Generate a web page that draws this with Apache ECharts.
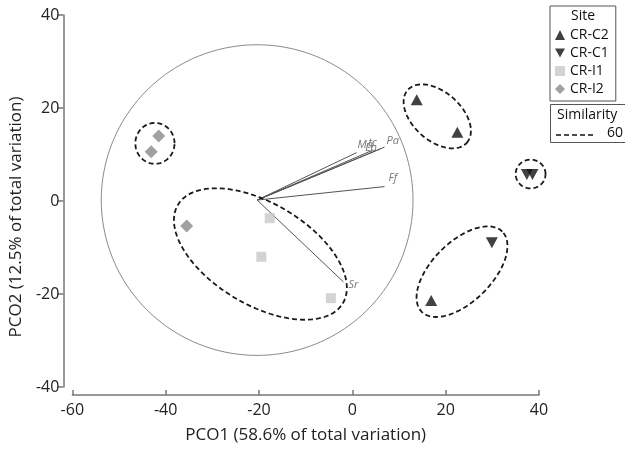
<!DOCTYPE html>
<html><head><meta charset="utf-8">
<script src="https://cdn.jsdelivr.net/npm/echarts@6/dist/echarts.min.js"></script>
<style>html,body{margin:0;padding:0;background:#fff}#c{width:625px;height:454px}</style>
</head><body><div id="c"></div>
<script>
// ---- data ----
const xTicks = [-60, -40, -20, 0, 20, 40];
const yTicks = [-40, -20, 0, 20, 40];
const siteNames = ['CR-C2', 'CR-C1', 'CR-I1', 'CR-I2'];
const c2X = [13.8, 22.5, 16.9];
const c2Y = [21.8, 14.8, -21.4];
const c1X = [29.9, 37.4, 38.6];
const c1Y = [-9.0, 5.7, 5.7];
const i1X = [-17.7, -19.5, -4.6];
const i1Y = [-3.7, -12.0, -20.9];
const i2X = [-41.5, -43.1, -35.5];
const i2Y = [14.0, 10.6, -5.4];
// similarity 60 cluster outlines: centre x, centre y, semi-axes a, b, angle (deg)
const ellCX = [-42.3, -19.7, 18.2, 38.2, 23.5];
const ellCY = [12.4, -11.4, 18.2, 5.8, -15.2];
const ellA = [4.2, 20.6, 8.5, 3.2, 12.2];
const ellB = [4.4, 10.9, 5.2, 3.1, 6.4];
const ellAng = [0, -31, -42, 0, 45];
// correlation vectors
const vecOrigin = [-20.4, 0.2];
const vecRadius = 33.4;
const vecNames = ['Ma', 'tc', 'Lp', 'Pa', 'Ff', 'Sr'];
const vecX = [0.9, 4.3, 6.0, 6.9, 6.9, -1.9];
const vecY = [10.4, 10.9, 11.2, 11.6, 3.1, -17.4];

// ---- style ----
const FONT = 'Open Sans';
const labelOff = [[1, -8], [-4, -7], [-15, -1], [2, -6], [4, -9], [5, 3]];

const chart = echarts.init(document.getElementById('c'), null, {renderer: 'canvas'});
const pts = (xs, ys) => xs.map((v, i) => [v, ys[i]]);

const option = {
  animation: false,
  backgroundColor: '#fff',
  grid: {left: 72, right: 86, top: 15, bottom: 67},
  xAxis: {
    type: 'value', min: xTicks[0], max: xTicks[xTicks.length - 1], interval: 20, offset: 8,
    splitLine: {show: false},
    axisLine: {show: true, onZero: false, lineStyle: {color: '#777', width: 1.5}},
    axisTick: {show: true, inside: true, length: 5, lineStyle: {color: '#777', width: 1.5}},
    axisLabel: {fontSize: 16, fontFamily: FONT, color: '#222', margin: 7},
    name: 'PCO1 (58.6% of total variation)', nameLocation: 'middle', nameGap: 32,
    nameTextStyle: {fontSize: 17, fontFamily: FONT, color: '#222'}
  },
  yAxis: {
    type: 'value', min: yTicks[0], max: yTicks[yTicks.length - 1], interval: 20, offset: 9,
    splitLine: {show: false},
    axisLine: {show: true, onZero: false, lineStyle: {color: '#777', width: 1.5}},
    axisTick: {show: true, inside: false, length: 6, lineStyle: {color: '#777', width: 1.5}},
    axisLabel: {fontSize: 16, fontFamily: FONT, color: '#222', margin: 4},
    name: 'PCO2 (12.5% of total variation)', nameLocation: 'middle', nameGap: 34,
    nameTextStyle: {fontSize: 17, fontFamily: FONT, color: '#222', padding: [0, 32, 0, 0]}
  },
  legend: {
    orient: 'vertical', left: 550, top: 6, padding: [22, 7, 5, 5],
    itemWidth: 10, itemHeight: 10, itemGap: 4,
    borderColor: '#555', borderWidth: 1,
    textStyle: {fontSize: 14, fontFamily: FONT, color: '#111'},
    data: siteNames
  },
  graphic: [
    {type: 'text', left: 571, top: 9, style: {text: 'Site', font: '14px "Open Sans"', fill: '#111'}},
    {type: 'rect', shape: {x: 550.5, y: 104.5, width: 90, height: 38}, style: {fill: 'none', stroke: '#555', lineWidth: 1}},
    {type: 'text', left: 557, top: 108, style: {text: 'Similarity', font: '14px "Open Sans"', fill: '#111'}},
    {type: 'line', shape: {x1: 556, y1: 135, x2: 594, y2: 135}, style: {stroke: '#111', lineWidth: 1.5, lineDash: [5, 3]}},
    {type: 'text', left: 607, top: 126, style: {text: '60', font: '14px "Open Sans"', fill: '#111'}}
  ],
  series: [
    {
      type: 'custom', silent: true, z: 1,
      data: [[vecOrigin[0], vecOrigin[1], vecRadius]],
      renderItem: (params, api) => {
        const cx = api.value(0), cy = api.value(1), r = api.value(2);
        const p = [];
        for (let k = 0; k <= 180; k++) {
          const t = k / 180 * Math.PI * 2;
          p.push(api.coord([cx + r * Math.cos(t), cy + r * Math.sin(t)]));
        }
        return {type: 'polyline', shape: {points: p}, style: {stroke: '#8a8a8a', lineWidth: 1, fill: null}};
      }
    },
    {
      type: 'custom', silent: true, z: 3,
      data: ellCX.map((v, i) => [v, ellCY[i], ellA[i], ellB[i], ellAng[i]]),
      renderItem: (params, api) => {
        const cx = api.value(0), cy = api.value(1), a = api.value(2), b = api.value(3);
        const g = api.value(4) * Math.PI / 180;
        const p = [];
        for (let k = 0; k <= 120; k++) {
          const t = k / 120 * Math.PI * 2;
          const x = cx + a * Math.cos(t) * Math.cos(g) - b * Math.sin(t) * Math.sin(g);
          const y = cy + a * Math.cos(t) * Math.sin(g) + b * Math.sin(t) * Math.cos(g);
          p.push(api.coord([x, y]));
        }
        return {type: 'polyline', shape: {points: p}, style: {stroke: '#1a1a1a', lineWidth: 1.8, lineDash: [5, 3], fill: null}};
      }
    },
    {
      type: 'custom', silent: true, z: 2,
      data: vecX.map((v, i) => [v, vecY[i], i]),
      renderItem: (params, api) => {
        const i = api.value(2);
        const o = api.coord(vecOrigin);
        const e = api.coord([api.value(0), api.value(1)]);
        return {type: 'group', children: [
          {type: 'line', shape: {x1: o[0], y1: o[1], x2: e[0], y2: e[1]}, style: {stroke: '#555', lineWidth: 1}},
          {type: 'text', x: e[0] + labelOff[i][0], y: e[1] + labelOff[i][1],
           style: {text: vecNames[i], font: 'italic 11px "Open Sans"', fill: '#777', verticalAlign: 'middle', align: 'left'}}
        ]};
      }
    },
    {name: siteNames[0], type: 'scatter', z: 5, symbol: 'triangle', symbolSize: [12, 11],
     itemStyle: {color: '#111'}, data: pts(c2X, c2Y)},
    {name: siteNames[1], type: 'scatter', z: 5, symbol: 'path://M0,0L12,0L6,11Z', symbolSize: [12, 11],
     itemStyle: {color: '#111'}, data: pts(c1X, c1Y)},
    {name: siteNames[2], type: 'scatter', z: 5, symbol: 'rect', symbolSize: 10,
     itemStyle: {color: '#c8c8c8'}, data: pts(i1X, i1Y)},
    {name: siteNames[3], type: 'scatter', z: 5, symbol: 'diamond', symbolSize: 13,
     itemStyle: {color: '#8a8a8a'}, data: pts(i2X, i2Y)}
  ]
};
chart.setOption(option);
</script>
</body></html>
